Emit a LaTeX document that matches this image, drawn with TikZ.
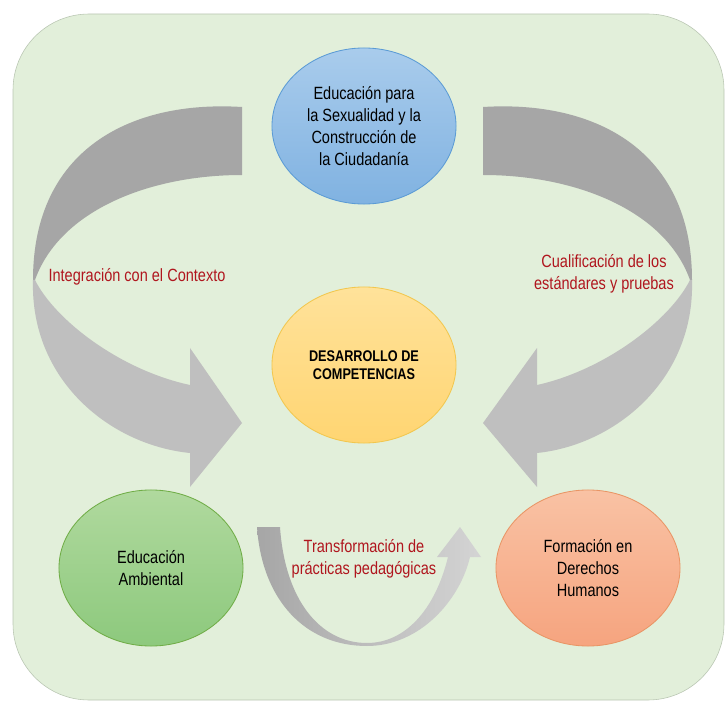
\documentclass[tikz,border=0pt]{standalone}
\usepackage{fontspec}
\setmainfont{Liberation Sans}[FakeStretch=0.82]
\usepackage{tikz}
\usetikzlibrary{shapes.geometric}

\definecolor{bggreen}{HTML}{E2EFDA}
\definecolor{bgedge}{HTML}{B9C6B2}
\definecolor{arrdark}{HTML}{A6A6A6}
\definecolor{arrlight}{HTML}{BFBFBF}
\definecolor{arrpale}{HTML}{D4D4D4}
\definecolor{lblred}{HTML}{B0161E}
\definecolor{bluetop}{HTML}{A9CCEC}
\definecolor{bluebot}{HTML}{80B2E1}
\definecolor{blueedge}{HTML}{5B9BD5}
\definecolor{yeltop}{HTML}{FFE29A}
\definecolor{yelbot}{HTML}{FFD572}
\definecolor{yeledge}{HTML}{F2C74E}
\definecolor{grntop}{HTML}{B0D99E}
\definecolor{grnbot}{HTML}{8DC97D}
\definecolor{grnedge}{HTML}{70AD47}
\definecolor{orgtop}{HTML}{F9C2A4}
\definecolor{orgbot}{HTML}{F6A47F}
\definecolor{orgedge}{HTML}{E99565}

\begin{document}
\begin{tikzpicture}[x=0.025cm,y=-0.025cm,
  circ/.style={ellipse, minimum width=4.6cm, minimum height=3.9cm, inner sep=0pt,
    align=center, line width=0.6pt, font=\fontsize{12.6}{15.6}\selectfont},
  lbl/.style={align=center, text=lblred, font=\fontsize{12.6}{15.6}\selectfont}]
\useasboundingbox (0,0) rectangle (725,702);

\path[fill=bggreen, draw=bgedge, rounded corners=1.9cm] (13,14) rectangle (724,700);

\fill[arrdark] (242,107) .. controls (130,100) and (33,150) .. (33,280)
  -- (35,280) .. controls (60,210) and (150,175) .. (242,175) -- cycle;
\fill[arrlight] (33,280) .. controls (30,380) and (110,445) .. (190,453)
  -- (190,487) -- (242,423) -- (190,348) -- (190,385)
  .. controls (120,370) and (55,320) .. (35,280) -- cycle;

\fill[arrdark] (483,107) .. controls (595,100) and (692,150) .. (692,280)
  -- (690,280) .. controls (665,210) and (575,175) .. (483,175) -- cycle;
\fill[arrlight] (692,280) .. controls (695,380) and (615,445) .. (537,453)
  -- (537,487) -- (483,423) -- (537,348) -- (537,385)
  .. controls (605,370) and (670,320) .. (690,280) -- cycle;

\shade[left color=arrdark, right color=arrpale] (257,527)
  .. controls (262,600) and (305,646) .. (367,646)
  .. controls (420,646) and (460,600) .. (470,557)
  -- (481,557) -- (460,527) -- (437,557) -- (448,557)
  .. controls (435,610) and (405,643) .. (367,643)
  .. controls (320,643) and (285,600) .. (280,527) -- cycle;

\path (364,126) node[circ, top color=bluetop, bottom color=bluebot, draw=blueedge] (edu)
        {Educación para\\la Sexualidad y la\\Construcción de\\la Ciudadanía}
      (364,365) node[circ, top color=yeltop, bottom color=yelbot, draw=yeledge,
        font=\fontsize{11}{13}\selectfont\bfseries] (des) {DESARROLLO DE\\COMPETENCIAS}
      (151,568) node[circ, top color=grntop, bottom color=grnbot, draw=grnedge] (amb)
        {Educación\\Ambiental}
      (588,568) node[circ, top color=orgtop, bottom color=orgbot, draw=orgedge] (dh)
        {Formación en\\Derechos\\Humanos}
      (137,277) node[lbl] (integ) {Integración con el Contexto}
      (604,274) node[lbl] (cualif) {Cualificación de los\\estándares y pruebas}
      (364,559) node[lbl] (transf) {Transformación de\\prácticas pedagógicas}
      ;
\end{tikzpicture}
\end{document}
